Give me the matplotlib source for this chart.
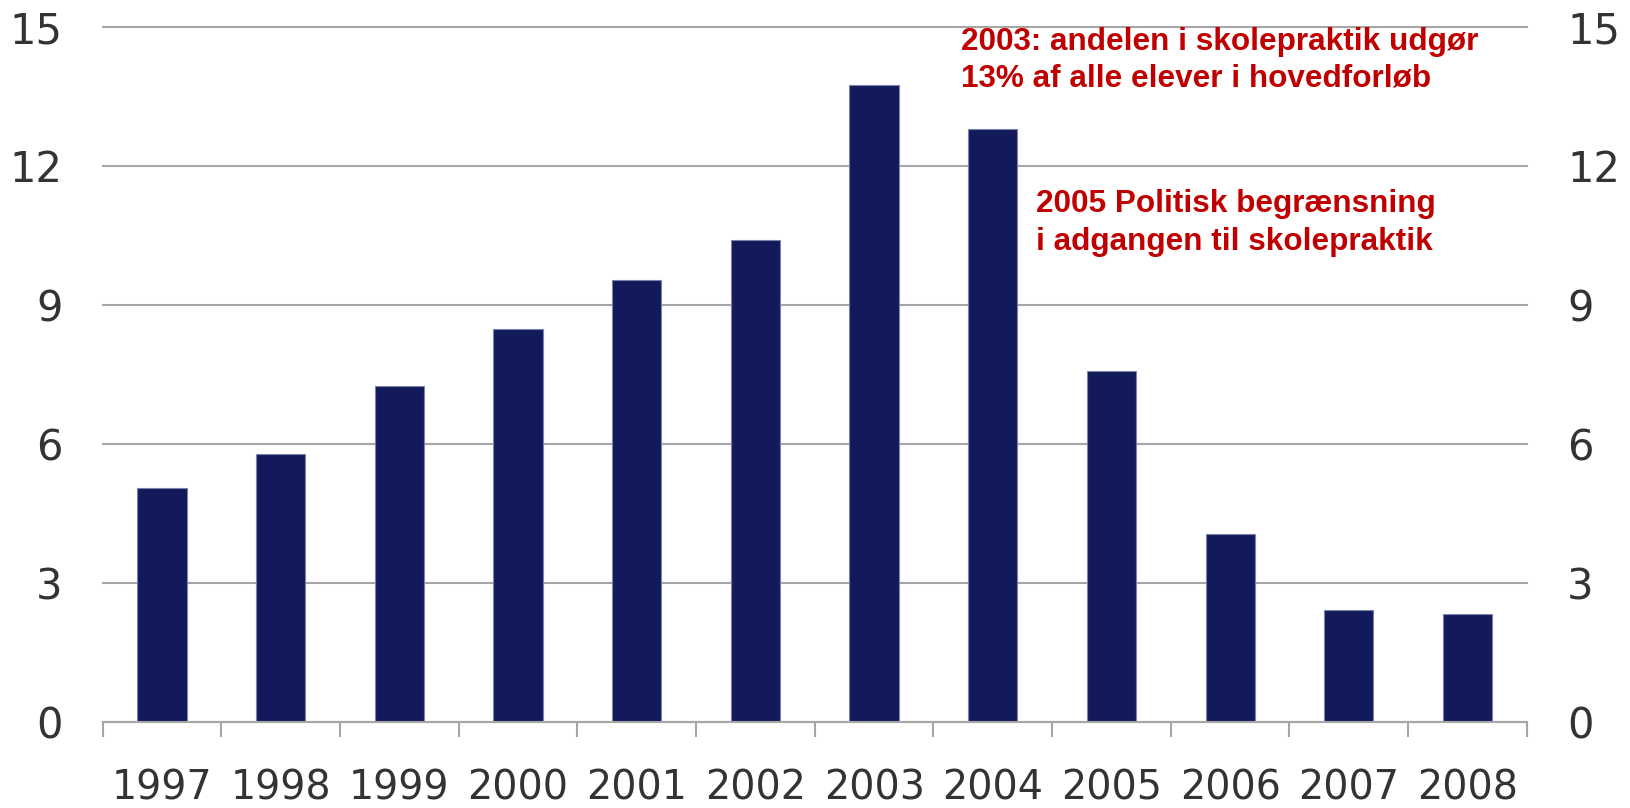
import matplotlib
matplotlib.use("Agg")
import matplotlib.pyplot as plt
import numpy as np

# Share of apprentices in school-based practical training (skolepraktik), %
years = ["1997", "1998", "1999", "2000", "2001", "2002",
         "2003", "2004", "2005", "2006", "2007", "2008"]
values = [5.04, 5.78, 7.24, 8.48, 9.53, 10.39,
          13.74, 12.80, 7.56, 4.05, 2.41, 2.32]
y_ticks = [0, 3, 6, 9, 12, 15]

note_2003 = ["2003: andelen i skolepraktik udgør",
             "13% af alle elever i hovedforløb"]
note_2005 = ["2005 Politisk begrænsning",
             "i adgangen til skolepraktik"]

bar_color = "#121a5b"
grid_color = "#a6a6a6"
label_color = "#333333"
note_color = "#c00000"

fig = plt.figure(figsize=(16.3, 8.08), dpi=100)
ax = fig.add_axes([0.063, 0.1068, 0.8737, 0.8602])

x = np.arange(len(years))
ax.bar(x, values, width=0.415, color=bar_color, edgecolor="#7d83ad",
       linewidth=0.8, zorder=3)

ax.set_xlim(-0.5, len(years) - 0.5)
ax.set_ylim(0, 15)

# y axis: labels on both sides, gridlines, no tick marks
ax.set_yticks(y_ticks)
ax.set_yticklabels([str(v) for v in y_ticks])
ax.tick_params(axis="y", left=False, right=False, length=0,
               labelleft=True, labelright=True, pad=29, labelsize=30,
               labelcolor=label_color)
ax.yaxis.grid(True, color=grid_color, linewidth=1.5, zorder=0)
for gl in ax.get_ygridlines():
    gl.set_clip_on(False)

# x axis: ticks between categories, labels centred under bars
ax.set_xticks(np.arange(-0.5, len(years), 1.0))
ax.set_xticklabels([])
ax.tick_params(axis="x", which="major", direction="out", length=10.8,
               width=1.5, color=grid_color)
ax.set_xticks(x, minor=True)
ax.set_xticklabels(years, minor=True)
ax.tick_params(axis="x", which="minor", length=0, pad=33.5, labelsize=28.5,
               labelcolor=label_color)

for side in ["top", "left", "right"]:
    ax.spines[side].set_visible(False)
ax.spines["bottom"].set_color(grid_color)
ax.spines["bottom"].set_linewidth(1.5)
ax.spines["bottom"].set_zorder(4)

# annotations
note_font = dict(family="Liberation Sans", weight="bold", size=22.7,
                 color=note_color, va="baseline", ha="left")
for i, line in enumerate(note_2003):
    ax.text(6.73, 14.50 - i * 0.79, line, **note_font)
for i, line in enumerate(note_2005):
    ax.text(7.365, 10.99 - i * 0.81, line, **note_font)

fig.savefig("out.png", dpi=100)
